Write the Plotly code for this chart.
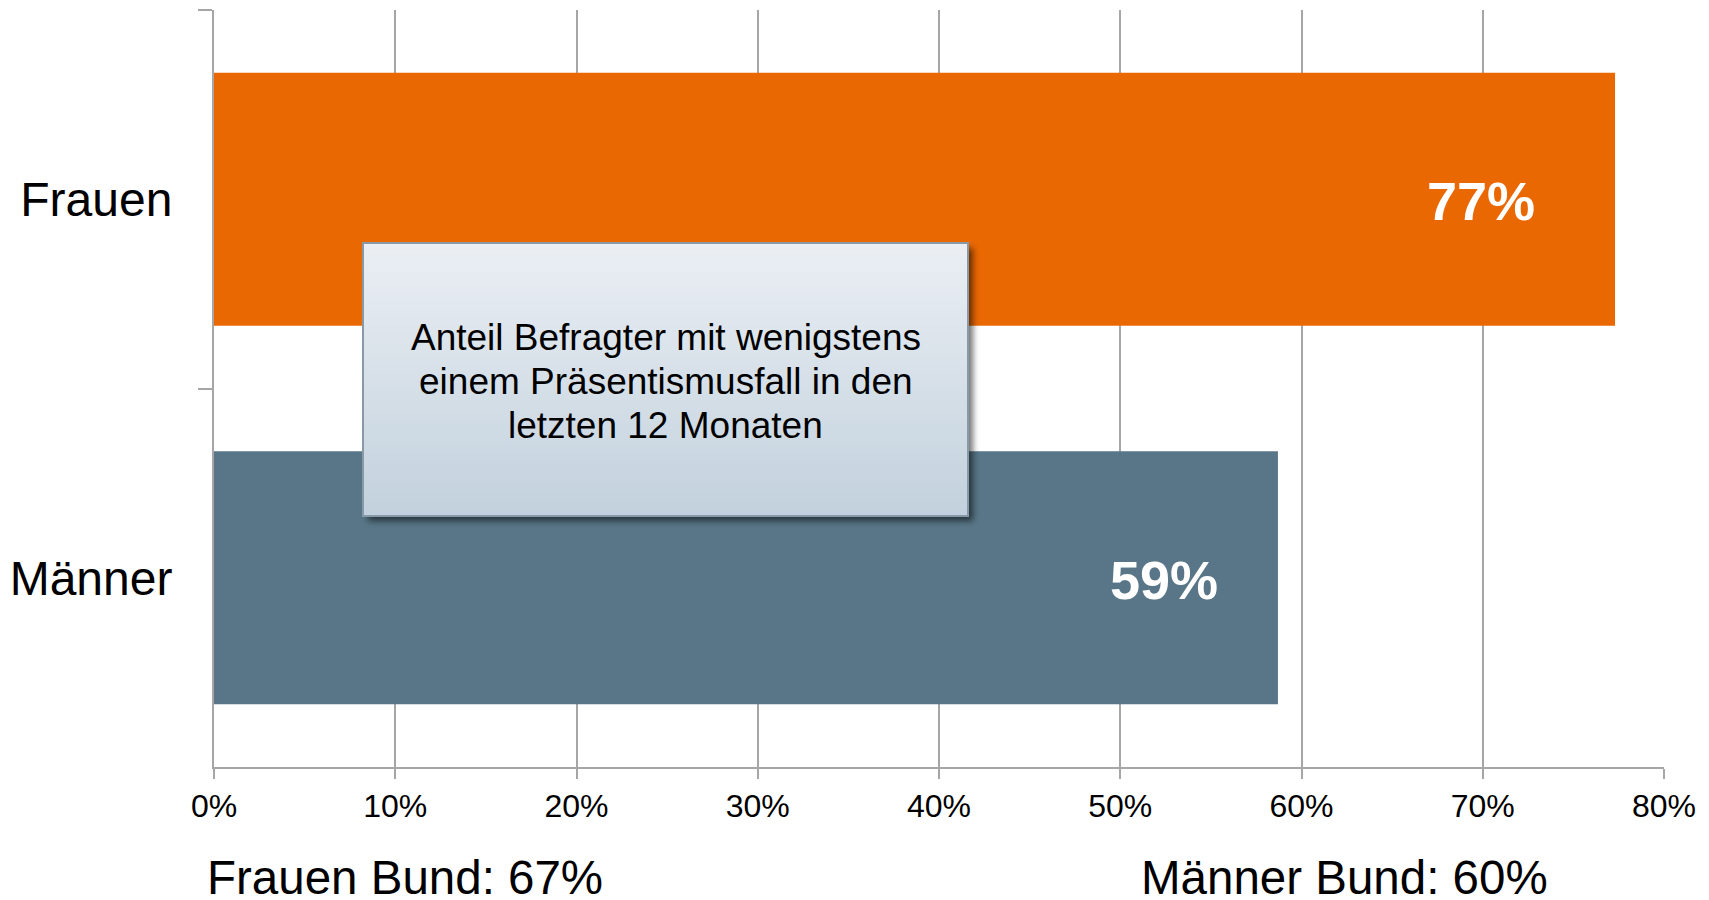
import base64
import plotly.graph_objects as go

categories = ["Frauen", "Männer"]
values = [0.773, 0.587]
value_labels = ["77%", "59%"]
bar_colors = ["#EA6802", "#587687"]
label_xshift = [-134, -114]
tick_vals = [0, 0.1, 0.2, 0.3, 0.4, 0.5, 0.6, 0.7, 0.8]
box_lines = ["Anteil Befragter mit wenigstens", "einem Präsentismusfall in den", "letzten 12 Monaten"]
bottom_texts = ["Frauen Bund: 67%", "Männer Bund: 60%"]

FONT = "Liberation Sans, Arial, sans-serif"
OFF = 8  # page body offset

# plot area in page pixels
L, R, T, B = 214 - OFF, 1664 - OFF, 10 - OFF, 767 - OFF
pw, ph = R - L, B - T


def px(xp):
    return (xp - OFF - L) / pw


def py(yp):
    return (B - (yp - OFF)) / ph


fig = go.Figure()
fig.add_trace(go.Bar(
    y=categories, x=values, orientation="h",
    marker=dict(color=bar_colors, line=dict(width=0)),
    width=0.668, hoverinfo="skip",
))

for cat, val, lab, sh in zip(categories, values, value_labels, label_xshift):
    fig.add_annotation(x=val, y=cat, xref="x", yref="y", text=lab, showarrow=False,
                       xanchor="center", yanchor="middle", xshift=sh, yshift=-2,
                       font=dict(family=FONT, size=54, color="white", weight="bold"))

# gradient box with shadow as SVG image
W, H = 618, 286
svg = f'''<svg xmlns="http://www.w3.org/2000/svg" width="{W}" height="{H}" viewBox="0 0 {W} {H}" preserveAspectRatio="none">
<defs>
<linearGradient id="g" x1="0" y1="0" x2="0" y2="1">
<stop offset="0" stop-color="#ebeff4"/><stop offset="1" stop-color="#c2d1dd"/></linearGradient>
<filter id="f" x="-10%" y="-10%" width="120%" height="120%"><feGaussianBlur stdDeviation="3"/></filter>
</defs>
<rect x="6" y="6" width="605" height="273" fill="#000" fill-opacity="0.55" filter="url(#f)"/>
<rect x="1" y="1" width="605" height="273" fill="url(#g)" stroke="#8899a8" stroke-width="2"/>
</svg>'''
src = "data:image/svg+xml;base64," + base64.b64encode(svg.encode()).decode()

bx0, by0 = 362, 242
fig.add_layout_image(source=src, xref="paper", yref="paper",
                     x=px(bx0), y=py(by0),
                     sizex=W / pw, sizey=H / ph, sizing="stretch",
                     xanchor="left", yanchor="top", layer="above")

for line, ly in zip(box_lines, [337, 381, 425]):
    fig.add_annotation(x=px(665.5), y=py(ly), xref="paper", yref="paper",
                       text=line, showarrow=False, align="center",
                       xanchor="center", yanchor="middle",
                       font=dict(family=FONT, size=37, color="black"))

for txt, cx in zip(bottom_texts, [405, 1344]):
    fig.add_annotation(x=px(cx), y=py(878), xref="paper", yref="paper",
                       text=txt, showarrow=False, xanchor="center", yanchor="middle",
                       font=dict(family=FONT, size=47.5, color="black"))

fig.update_layout(
    width=1709, height=900,
    margin=dict(l=L, r=1709 - R, t=T, b=900 - B),
    paper_bgcolor="white", plot_bgcolor="white",
    showlegend=False, bargap=0.33,
    font=dict(family=FONT, color="black"),
)
fig.update_xaxes(range=[0, 0.8], tickvals=tick_vals, tickformat=".0%",
                 showgrid=True, gridcolor="#a6a6a6", gridwidth=2,
                 showline=True, linecolor="#a6a6a6", linewidth=2,
                 ticks="outside", ticklen=10, tickwidth=2, tickcolor="#a6a6a6",
                 tickfont=dict(size=32, family=FONT, color="black"),
                 zeroline=False, fixedrange=True)
fig.update_yaxes(autorange="reversed", showgrid=False,
                 showline=True, linecolor="#a6a6a6", linewidth=2,
                 ticks="outside", ticklen=14, tickwidth=2, tickcolor="#a6a6a6",
                 tickson="boundaries", ticklabelstandoff=30,
                 tickfont=dict(size=48, family=FONT, color="black"),
                 zeroline=False, fixedrange=True)

fig.write_html("out.html")
